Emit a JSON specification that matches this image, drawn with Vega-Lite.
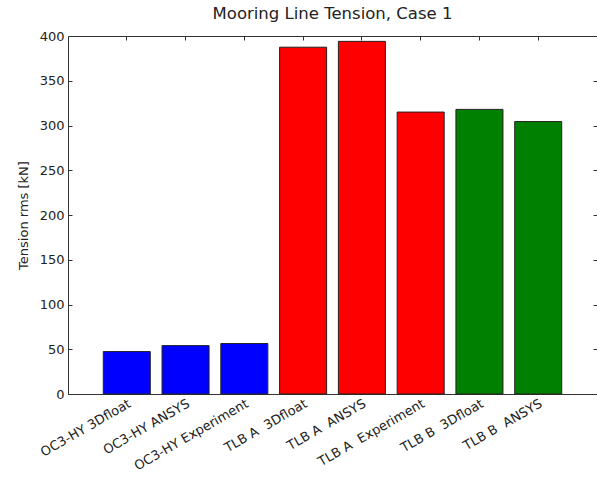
{
  "$schema": "https://vega.github.io/schema/vega-lite/v6.json",
  "autosize": "none",
  "width": 529,
  "height": 358,
  "padding": {"left": 68, "top": 36, "right": 0, "bottom": 83},
  "background": "white",
  "title": {"text": "Mooring Line Tension, Case 1", "font": "DejaVu Sans", "fontSize": 16.5, "fontWeight": "normal", "color": "#222", "offset": 8},
  "config": {
    "view": {"stroke": "#333", "strokeWidth": 1},
    "axis": {"labelFont": "DejaVu Sans", "titleFont": "DejaVu Sans", "labelColor": "#222", "titleColor": "#222", "domain": false, "grid": false, "tickColor": "#333", "labelFontSize": 13, "titleFontSize": 13, "titleFontWeight": "normal", "zindex": 1}
  },
  "data": {"values": [
    {"case": "OC3-HY 3Dfloat", "group": "OC3-HY", "tension": 47.4},
    {"case": "OC3-HY ANSYS", "group": "OC3-HY", "tension": 54.1},
    {"case": "OC3-HY Experiment", "group": "OC3-HY", "tension": 56.4},
    {"case": "TLB A\u00a0 3Dfloat", "group": "TLB A", "tension": 387.5},
    {"case": "TLB A\u00a0 ANSYS", "group": "TLB A", "tension": 394.0},
    {"case": "TLB A\u00a0 Experiment", "group": "TLB A", "tension": 315.0},
    {"case": "TLB B\u00a0 3Dfloat", "group": "TLB B", "tension": 318.0},
    {"case": "TLB B\u00a0 ANSYS", "group": "TLB B", "tension": 304.4}
  ]},
  "layer": [
    {
      "mark": {"type": "bar", "stroke": "#222", "strokeWidth": 1},
      "encoding": {
        "x": {"field": "case", "type": "nominal", "sort": null,
          "scale": {"paddingInner": 0.2, "paddingOuter": 0.6},
          "axis": {"title": null, "labelAngle": -30, "labelAlign": "right", "labelBaseline": "top", "tickSize": -4, "labelPadding": 7, "labelFontSize": 13}},
        "y": {"field": "tension", "type": "quantitative",
          "scale": {"domain": [0, 400], "nice": false},
          "axis": {"title": "Tension rms [kN]", "values": [0, 50, 100, 150, 200, 250, 300, 350, 400], "tickSize": -4, "labelPadding": 8, "titlePadding": 9}},
        "color": {"field": "group", "type": "nominal", "legend": null,
          "scale": {"domain": ["OC3-HY", "TLB A", "TLB B"], "range": ["#0000ff", "#ff0000", "#008000"]}}
      }
    },
    {
      "mark": {"type": "bar", "opacity": 0},
      "encoding": {
        "x": {"field": "case", "type": "nominal", "sort": null,
          "axis": {"orient": "top", "title": null, "labels": false, "tickSize": -4}},
        "y": {"field": "tension", "type": "quantitative",
          "axis": {"orient": "right", "title": null, "labels": false, "values": [0, 50, 100, 150, 200, 250, 300, 350, 400], "tickSize": -4}}
      }
    }
  ],
  "resolve": {"axis": {"x": "independent", "y": "independent"}}
}
